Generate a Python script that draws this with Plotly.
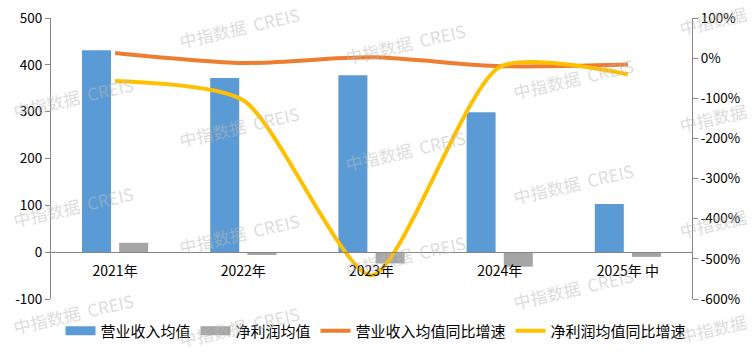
import plotly.graph_objects as go

categories = ["2021年", "2022年", "2023年", "2024年", "2025年 中"]
revenue_avg = [431, 372, 378, 299, 103]
profit_avg = [20, -6, -24, -31, -10]
revenue_yoy = [0.13, -0.12, 0.02, -0.20, -0.16]
profit_yoy = [-0.57, -1.05, -5.41, -0.22, -0.40]

left_ticks = [-100, 0, 100, 200, 300, 400, 500]
left_ticktext = ["-100", "0", "100", "200", "300", "400", "500"]
right_ticks = [-6, -5, -4, -3, -2, -1, 0, 1]
right_ticktext = ["-600%", "-500%", "-400%", "-300%", "-200%", "-100%", "0%", "100%"]

BLUE = "#5B9BD5"
GRAY = "#A5A5A5"
ORANGE = "#ED7D31"
YELLOW = "#FFC000"
AXIS = "#868686"
FONT = "Noto Sans CJK SC, DejaVu Sans, sans-serif"

fig = go.Figure()
fig.add_trace(go.Bar(x=categories, y=revenue_avg, name="营业收入均值", marker_color=BLUE,
                     marker_line_width=0, showlegend=False, legendgroup="a"))
fig.add_trace(go.Bar(x=categories, y=profit_avg, name="净利润均值", marker_color=GRAY,
                     marker_line_width=0, showlegend=False, legendgroup="b"))
fig.add_trace(go.Scatter(x=categories, y=revenue_yoy, name="营业收入均值同比增速", yaxis="y2",
                         mode="lines", line=dict(color=ORANGE, width=4, shape="spline", smoothing=0.8),
                         legendrank=3))
fig.add_trace(go.Scatter(x=categories, y=profit_yoy, name="净利润均值同比增速", yaxis="y2",
                         mode="lines", line=dict(color=YELLOW, width=4, shape="spline", smoothing=0.65),
                         legendrank=4))
# legend proxies for the bar series (wide rectangular swatches)
fig.add_trace(go.Scatter(x=[None], y=[None], name="营业收入均值", mode="lines",
                         line=dict(color=BLUE, width=9), legendgroup="a", legendrank=1))
fig.add_trace(go.Scatter(x=[None], y=[None], name="净利润均值", mode="lines",
                         line=dict(color=GRAY, width=9), legendgroup="b", legendrank=2))

# watermarks
L, R, T, B = 51, 692, 18, 299
marks = [("中指数据  CREIS", 73, 98), ("中指数据  CREIS", 73, 207), ("中指数据  CREIS", 73, 313),
         ("中指数据  CREIS", 239, 27), ("中指数据  CREIS", 239, 127), ("中指数据  CREIS", 239, 233),
         ("中指数据  CREIS", 239, 326),
         ("中指数据  CREIS", 405, 43), ("中指数据  CREIS", 405, 150), ("中指数据  CREIS", 405, 255),
         ("中指数据  CREIS", 573, 78), ("中指数据  CREIS", 573, 183), ("中指数据  CREIS", 573, 288),
         ("中指数据", 713, 21), ("中指数据", 713, 118), ("中指数据", 713, 223), ("中指数据", 713, 328)]
for txt, px, py in marks:
    fig.add_annotation(text=txt, xref="paper", yref="paper",
                       x=(px - L) / (R - L), y=(B - py) / (B - T),
                       xanchor="center", yanchor="middle", showarrow=False,
                       textangle=-13, font=dict(family=FONT, size=17, color="rgba(185,185,185,0.5)"))

fig.update_layout(
    width=753, height=355,
    margin=dict(l=L, r=753 - R, t=T, b=355 - B, pad=0, autoexpand=False),
    paper_bgcolor="white", plot_bgcolor="white",
    barmode="group", bargap=0.42, bargroupgap=0.22,
    font=dict(family=FONT, size=14, color="#000000"),
    showlegend=True,
    legend=dict(orientation="h", xref="container", yref="container",
                x=376 / 753, xanchor="center", y=1 - 331 / 355, yanchor="middle",
                font=dict(size=15), itemwidth=30, traceorder="normal",
                bgcolor="rgba(0,0,0,0)", tracegroupgap=0),
    xaxis=dict(anchor="free", position=100 / 600, showline=True, linecolor=AXIS, linewidth=1,
               ticks="", showgrid=False, zeroline=False, tickfont=dict(size=14),
               ticklabelstandoff=6, range=[-0.5, 4.5], automargin=False),
    yaxis=dict(range=[-100, 500], tickvals=left_ticks, ticktext=left_ticktext,
               showline=True, linecolor=AXIS, linewidth=1, ticks="outside", ticklen=5,
               tickcolor=AXIS, showgrid=False, zeroline=False, tickfont=dict(size=13.5),
               automargin=False),
    yaxis2=dict(range=[-6, 1], tickvals=right_ticks, ticktext=right_ticktext, overlaying="y",
                side="right", showline=True, linecolor=AXIS, linewidth=1, ticks="outside",
                ticklen=5, tickcolor=AXIS, showgrid=False, zeroline=False,
                tickfont=dict(size=13.5), automargin=False),
)

fig.write_html("out.html")
